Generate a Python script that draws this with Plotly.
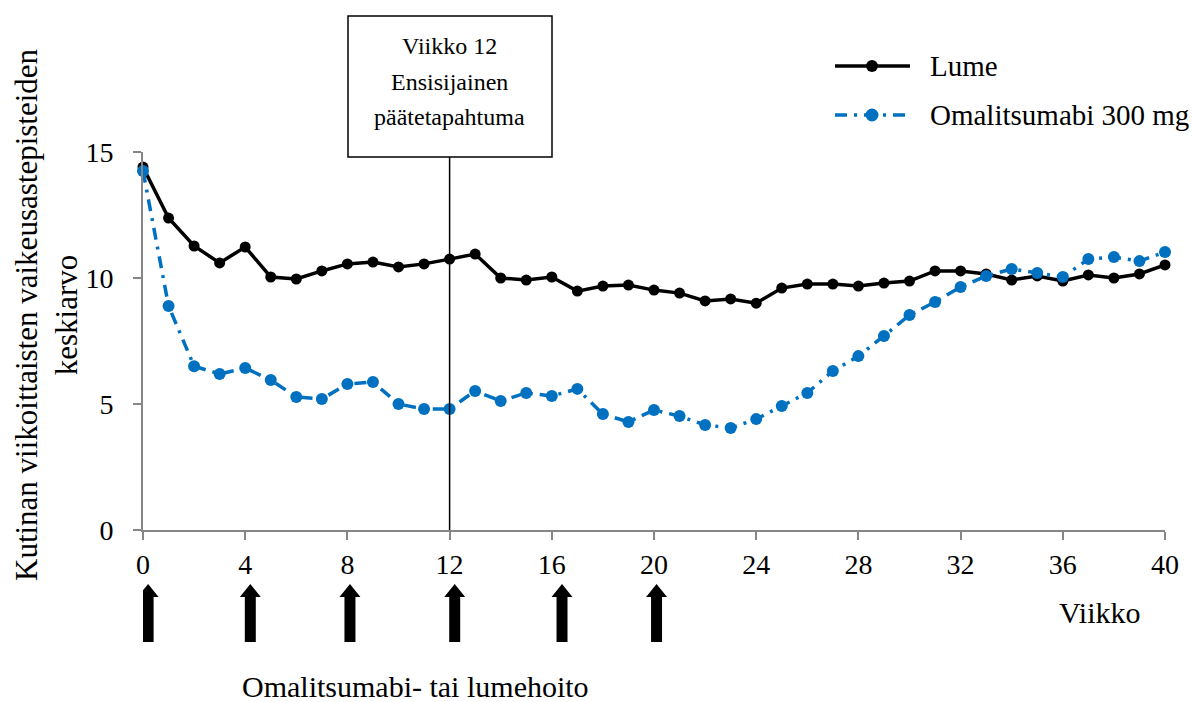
import plotly.graph_objects as go

weeks = list(range(0, 41))
lume = [14.4, 12.38, 11.27, 10.6, 11.23, 10.04, 9.96, 10.28, 10.56, 10.63,
        10.44, 10.56, 10.75, 10.95, 10.0, 9.92, 10.04, 9.48, 9.68, 9.72,
        9.52, 9.4, 9.09, 9.17, 9.0, 9.6, 9.76, 9.76, 9.68, 9.8,
        9.88, 10.28, 10.28, 10.16, 9.92, 10.08, 9.88, 10.12, 10.0, 10.16, 10.52]
omali = [14.25, 8.89, 6.5, 6.19, 6.43, 5.95, 5.28, 5.2, 5.79, 5.87,
         5.0, 4.8, 4.8, 5.52, 5.12, 5.44, 5.32, 5.6, 4.6, 4.29,
         4.76, 4.52, 4.17, 4.05, 4.4, 4.92, 5.44, 6.31, 6.9, 7.7,
         8.53, 9.05, 9.64, 10.08, 10.36, 10.2, 10.04, 10.75, 10.83, 10.67, 11.03]
series_names = ["Lume", "Omalitsumabi 300 mg"]
x_ticks = [0, 4, 8, 12, 16, 20, 24, 28, 32, 36, 40]
y_ticks = [0, 5, 10, 15]
arrow_weeks = [0.2, 4.2, 8.1, 12.2, 16.4, 20.1]
endpoint_week = 12

FONT = "Liberation Serif, Times New Roman, serif"
BLUE = "#0070C0"
GREY = "#868686"
BLUE_DASH = "12px,7px,3px,7px"

# plot area in pixels (fixed margins)
L, R, T, B = 143, 1165, 152, 530
PW, PH = R - L, B - T


def px(xp):
    return (xp - L) / PW


def py(yp):
    return (B - yp) / PH


fig = go.Figure()
fig.add_trace(go.Scatter(
    x=weeks, y=lume, mode="lines+markers", name=series_names[0],
    line=dict(color="black", width=3.5),
    marker=dict(color="black", size=11), cliponaxis=False))
fig.add_trace(go.Scatter(
    x=weeks, y=omali, mode="lines+markers", name=series_names[1],
    line=dict(color=BLUE, width=3.5, dash=BLUE_DASH),
    marker=dict(color=BLUE, size=12), cliponaxis=False))

shapes = []
shapes.append(dict(type="line", xref="x", yref="paper",
                   x0=endpoint_week, x1=endpoint_week, y0=0, y1=py(157),
                   line=dict(color="black", width=1.5)))
shapes.append(dict(type="rect", xref="paper", yref="paper",
                   x0=px(348), x1=px(552), y0=py(157), y1=py(16),
                   line=dict(color="black", width=1.5), fillcolor="white"))
for w in arrow_weeks:
    hw, sw = 0.41, 0.215
    yt, yh, yb = py(584), py(597), py(642)
    path = (f"M {w-hw},{yh} L {w},{yt} L {w+hw},{yh} L {w+sw},{yh} "
            f"L {w+sw},{yb} L {w-sw},{yb} L {w-sw},{yh} Z")
    shapes.append(dict(type="path", xref="x", yref="paper", path=path,
                       fillcolor="black", line=dict(color="black", width=0)))

# manual legend
leg_items = [(series_names[0], "black", "solid", 66, 12),
             (series_names[1], BLUE, BLUE_DASH, 115, 13)]
annotations = []
for name, col, dash, ypix, msize in leg_items:
    shapes.append(dict(type="line", xref="paper", yref="paper",
                       x0=px(835), x1=px(910), y0=py(ypix), y1=py(ypix),
                       line=dict(color=col, width=3.5, dash=dash)))
    shapes.append(dict(type="circle", xref="paper", yref="paper",
                       xsizemode="pixel", ysizemode="pixel",
                       xanchor=px(872), yanchor=py(ypix),
                       x0=-msize / 2, x1=msize / 2, y0=-msize / 2, y1=msize / 2,
                       fillcolor=col, line=dict(color=col, width=0)))
    annotations.append(dict(text=name, x=px(928), xref="paper", y=py(ypix), yref="paper",
                            xanchor="left", yanchor="middle", showarrow=False,
                            font=dict(family=FONT, size=29, color="black")))

for txt, ypx in [("Viikko 12", 46), ("Ensisijainen", 82), ("päätetapahtuma", 117)]:
    annotations.append(dict(text=txt, x=endpoint_week, xref="x",
                            y=py(ypx), yref="paper",
                            xanchor="center", yanchor="middle", showarrow=False,
                            font=dict(family=FONT, size=24, color="black")))
annotations.append(dict(text="Kutinan viikoittaisten vaikeusastepisteiden<br>keskiarvo",
                        x=px(46), xref="paper", y=py(315), yref="paper",
                        textangle=-90, xanchor="center", yanchor="middle", showarrow=False,
                        font=dict(family=FONT, size=31, color="black")))
annotations.append(dict(text="Viikko", x=px(1100), xref="paper",
                        y=py(612), yref="paper", xanchor="center", yanchor="middle",
                        showarrow=False, font=dict(family=FONT, size=30, color="black")))
annotations.append(dict(text="Omalitsumabi- tai lumehoito", x=px(415), xref="paper",
                        y=py(686), yref="paper", xanchor="center", yanchor="middle",
                        showarrow=False, font=dict(family=FONT, size=30, color="black")))

fig.update_layout(
    width=1193, height=702,
    margin=dict(l=L, r=1193 - R, t=T, b=702 - B, autoexpand=False),
    paper_bgcolor="white", plot_bgcolor="white",
    font=dict(family=FONT, size=28, color="black"),
    shapes=shapes, annotations=annotations,
    showlegend=False,
    xaxis=dict(range=[0, 40], tickvals=x_ticks, ticktext=[str(t) for t in x_ticks],
               showgrid=False, zeroline=False, showline=True, linecolor=GREY, linewidth=2,
               ticks="outside", ticklen=8, tickcolor=GREY, tickwidth=2, automargin=False,
               tickfont=dict(family=FONT, size=28, color="black"), ticklabelstandoff=0),
    yaxis=dict(range=[0, 15], tickvals=y_ticks, ticktext=[str(t) for t in y_ticks],
               showgrid=False, zeroline=False, showline=True, linecolor=GREY, linewidth=2,
               ticks="outside", ticklen=8, tickcolor=GREY, tickwidth=2, automargin=False,
               tickfont=dict(family=FONT, size=28, color="black"), ticklabelstandoff=14),
)

fig.write_html("out.html")
